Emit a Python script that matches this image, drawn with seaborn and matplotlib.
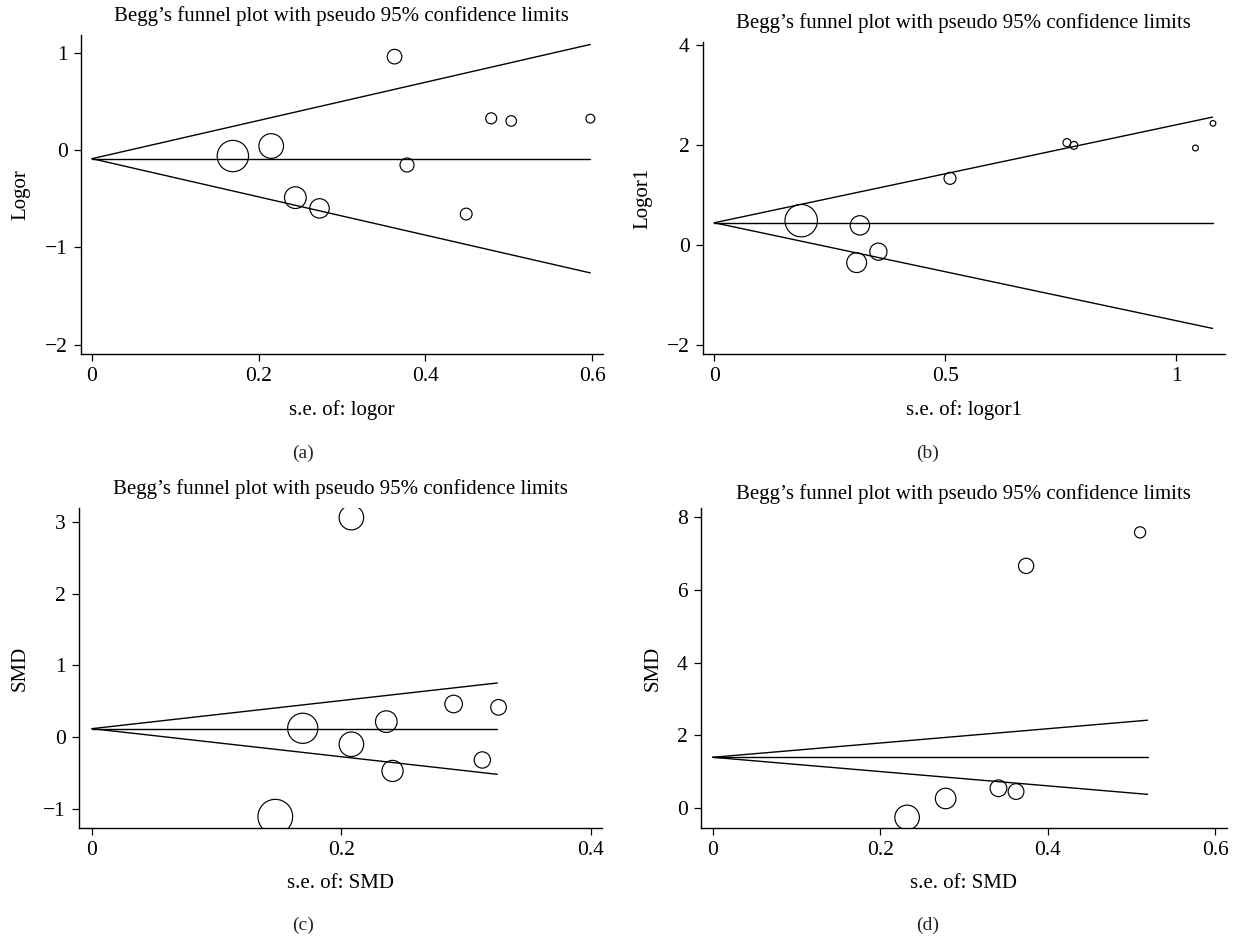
import pandas as pd
import matplotlib
matplotlib.use("Agg")
import matplotlib.pyplot as plt
import seaborn as sns

# ---- data ----
# (a) logor
se_a = [0.363, 0.169, 0.215, 0.244, 0.273, 0.378, 0.449, 0.479, 0.503, 0.598]
est_a = [0.958, -0.062, 0.041, -0.489, -0.599, -0.154, -0.657, 0.325, 0.298, 0.322]
theta_a = -0.089
semax_a = 0.598

# (b) logor1
se_b = [0.188, 0.315, 0.308, 0.355, 0.510, 0.763, 0.778, 1.041, 1.079]
est_b = [0.487, 0.393, -0.353, -0.133, 1.333, 2.047, 1.993, 1.940, 2.433]
theta_b = 0.445
semax_b = 1.078

# (c) SMD
se_c = [0.208, 0.169, 0.208, 0.236, 0.241, 0.290, 0.326, 0.313, 0.147]
est_c = [3.06, 0.121, -0.102, 0.214, -0.474, 0.460, 0.414, -0.321, -1.112]
theta_c = 0.116
semax_c = 0.325

# (d) SMD
se_d = [0.510, 0.374, 0.232, 0.278, 0.341, 0.362]
est_d = [7.57, 6.65, -0.25, 0.27, 0.55, 0.46]
theta_d = 1.40
semax_d = 0.519

title = "Begg\u2019s funnel plot with pseudo 95% confidence limits"

panels = [
    dict(se=se_a, est=est_a, theta=theta_a, semax=semax_a,
         xlabel="s.e. of: logor", ylabel="Logor", letter="(a)",
         xticks=[0, 0.2, 0.4, 0.6], xticklabels=["0", "0.2", "0.4", "0.6"],
         yticks=[-2, -1, 0, 1], yticklabels=["\u22122", "\u22121", "0", "1"],
         xlim=(-0.0136, 0.6128), ylim=(-2.093, 1.18),
         pos=[0.06545, 0.62260, 0.42336, 0.34009], k=5.3, tpad=10),
    dict(se=se_b, est=est_b, theta=theta_b, semax=semax_b,
         xlabel="s.e. of: logor1", ylabel="Logor1", letter="(b)",
         xticks=[0, 0.5, 1], xticklabels=["0", "0.5", "1"],
         yticks=[-2, 0, 2, 4], yticklabels=["\u22122", "0", "2", "4"],
         xlim=(-0.0251, 1.105), ylim=(-2.18, 4.06),
         pos=[0.56992, 0.62260, 0.42360, 0.33262], k=6.1, tpad=10),
    dict(se=se_c, est=est_c, theta=theta_c, semax=semax_c,
         xlabel="s.e. of: SMD", ylabel="SMD", letter="(c)",
         xticks=[0, 0.2, 0.4], xticklabels=["0", "0.2", "0.4"],
         yticks=[-1, 0, 1, 2, 3], yticklabels=["\u22121", "0", "1", "2", "3"],
         xlim=(-0.0104, 0.4087), ylim=(-1.27, 3.19),
         pos=[0.06407, 0.11727, 0.42392, 0.34083], k=5.1, tpad=10),
    dict(se=se_d, est=est_d, theta=theta_d, semax=semax_d,
         xlabel="s.e. of: SMD", ylabel="SMD", letter="(d)",
         xticks=[0, 0.2, 0.4, 0.6], xticklabels=["0", "0.2", "0.4", "0.6"],
         yticks=[0, 2, 4, 6, 8], yticklabels=["0", "2", "4", "6", "8"],
         xlim=(-0.014, 0.6134), ylim=(-0.54, 8.23),
         pos=[0.56853, 0.11727, 0.42636, 0.34083], k=5.7, tpad=7),
]
letter_pos = [(0.246, 1 - 453 / 938), (0.752, 1 - 453 / 938),
              (0.246, 1 - 925 / 938), (0.752, 1 - 925 / 938)]

sns.set_theme(style="ticks")
plt.rcParams['font.family'] = ['Liberation Serif', 'DejaVu Serif']
plt.rcParams['axes.unicode_minus'] = True
FS = 15        # titles and axis labels
TFS = 15.5     # tick labels

fig = plt.figure(figsize=(12.33, 9.38), dpi=100)

for p, (lx, ly) in zip(panels, letter_pos):
    ax = fig.add_axes(p["pos"])
    df = pd.DataFrame({"se": p["se"], "est": p["est"]})
    df["w"] = 1 / df["se"] ** 2

    # pseudo 95% limits and pooled estimate
    lim = pd.DataFrame({
        "x": [0, p["semax"]] * 3,
        "y": [p["theta"], p["theta"] + 1.96 * p["semax"],
              p["theta"], p["theta"] - 1.96 * p["semax"],
              p["theta"], p["theta"]],
        "line": ["up", "up", "low", "low", "mid", "mid"],
    })
    sns.lineplot(data=lim, x="x", y="y", units="line", estimator=None,
                 color="black", lw=1.0, ax=ax)

    # marker diameter proportional to 1/se (area to weight)
    dmax_pt = p["k"] / min(p["se"]) * 0.72
    sns.scatterplot(data=df, x="se", y="est", size="w",
                    sizes=(0, dmax_pt ** 2), size_norm=(0, df["w"].max()),
                    marker="o", facecolor="none", edgecolor="black",
                    linewidth=0.85, legend=False, ax=ax)

    ax.set_xlim(p["xlim"])
    ax.set_ylim(p["ylim"])
    ax.set_xticks(p["xticks"])
    ax.set_xticklabels(p["xticklabels"])
    ax.set_yticks(p["yticks"])
    ax.set_yticklabels(p["yticklabels"])
    ax.tick_params(axis="both", length=5, width=0.9, color="black",
                   labelsize=TFS, pad=4.5, labelcolor="black")
    sns.despine(ax=ax)
    for s in ["left", "bottom"]:
        ax.spines[s].set_linewidth(1.0)
        ax.spines[s].set_color("black")
    ax.set_xlabel(p["xlabel"], fontsize=FS, labelpad=10, color="black")
    ax.set_ylabel(p["ylabel"], fontsize=FS, labelpad=10, color="black")
    ax.set_title(title, fontsize=FS, pad=p["tpad"], color="black")
    fig.text(lx, ly, p["letter"], ha="center", va="center", fontsize=FS - 1)

fig.savefig("out.png", dpi=100)
